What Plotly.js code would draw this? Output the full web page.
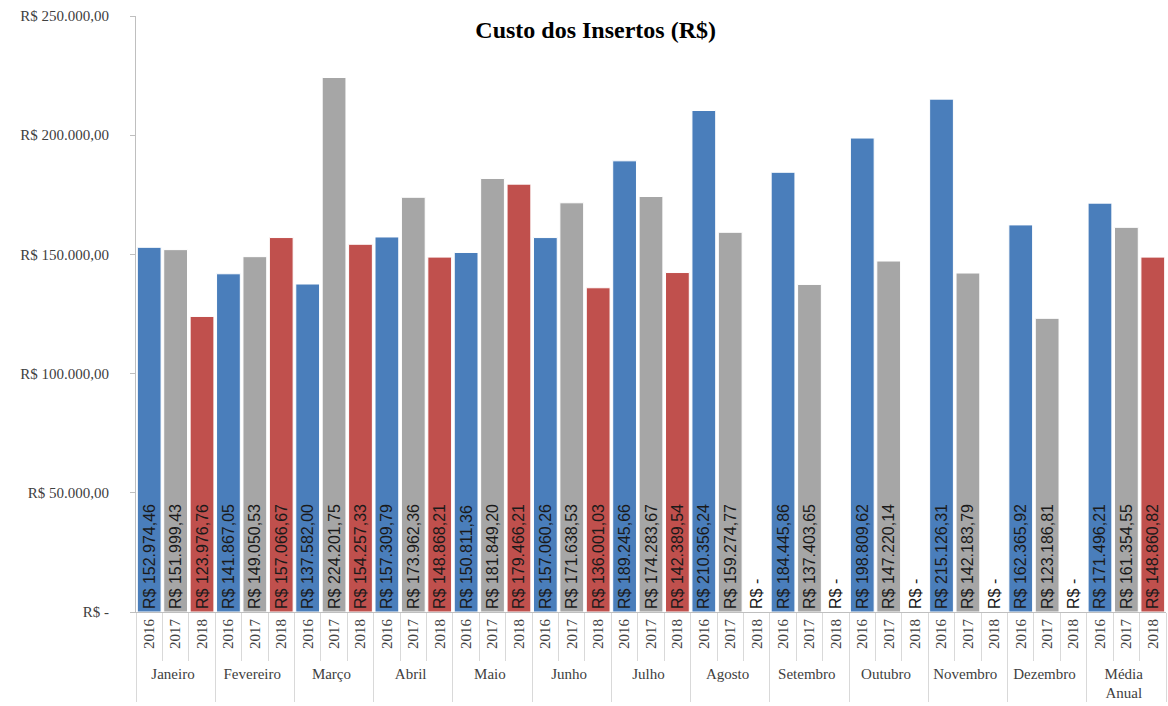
<!DOCTYPE html>
<html><head><meta charset="utf-8">
<script src="https://cdn.plot.ly/plotly-3.0.1.min.js"></script>
<style>html,body{margin:0;padding:0;background:#fff}#chart{width:1168px;height:706px}</style>
</head><body><div id="chart"></div>
<script>
const months = ["Janeiro","Fevereiro","Março","Abril","Maio","Junho","Julho","Agosto","Setembro","Outubro","Novembro","Dezembro","Média<br>Anual"];
const years = ["2016","2017","2018"];
const v2016 = [152974.46,141867.05,137582.00,157309.79,150811.36,157060.26,189245.66,210356.24,184445.86,198809.62,215126.31,162365.92,171496.21];
const v2017 = [151999.43,149050.53,224201.75,173962.36,181849.20,171638.53,174283.67,159274.77,137403.65,147220.14,142183.79,123186.81,161354.55];
const v2018 = [123976.76,157066.67,154257.33,148868.21,179466.21,136001.03,142389.54,0,0,0,0,0,148860.82];
const yTickVals = [0,50000,100000,150000,200000,250000];
const colors = ["#4a7ebb","#a6a6a6","#c0504d"];

function brl(v){
  if(v===0) return "R$ -";
  const parts = v.toFixed(2).split(".");
  const intp = parts[0].replace(/\B(?=(\d{3})+(?!\d))/g,".");
  return "R$ " + intp + "," + parts[1];
}
const series=[v2016,v2017,v2018];
const traces = series.map((vals,i)=>({
  type:"bar",
  x:[months, months.map(()=>years[i])],
  y:vals,
  name:years[i],
  marker:{color:colors[i], line:{color:"#ffffff", width:1}},
  text:vals.map(brl),
  textposition:vals.map(v=>v===0?"outside":"inside"),
  insidetextanchor:"start",
  textangle:-90,
  constraintext:"none",
  textfont:{family:"Liberation Sans, Arial, sans-serif", size:16, color:"#1a1a1a"},
  hoverinfo:"skip",
  cliponaxis:false
}));
const layout = {
  width:1168, height:706,
  margin:{l:136, r:2, t:16, b:94},
  paper_bgcolor:"#ffffff", plot_bgcolor:"#ffffff",
  barmode:"overlay",
  bargap:0.1,
  showlegend:false,
  title:{text:"<b>Custo dos Insertos (R$)</b>", x:0.51, xanchor:"center", y:0.958, yanchor:"middle",
         font:{family:"Liberation Serif, Times New Roman, serif", size:24, color:"#000000"}},
  yaxis:{range:[0,250000], tickvals:yTickVals, ticktext:yTickVals.map(v=>v===0?"R$ -":brl(v)),
         showgrid:false, zeroline:false, showline:true, linecolor:"#bfbfbf", linewidth:1,
         ticks:"outside", ticklen:5, tickcolor:"#bfbfbf", ticklabelstandoff:18,
         tickfont:{family:"Liberation Serif, Times New Roman, serif", size:15, color:"#404040"}},
  xaxis:{type:"multicategory", showgrid:false, zeroline:false, showline:true, linecolor:"#bfbfbf", linewidth:1,
         ticks:"outside", tickson:"boundaries", ticklen:48, tickcolor:"#d9d9d9",
         tickangle:-90,
         showdividers:true, dividercolor:"#d9d9d9", dividerwidth:1,
         tickfont:{family:"Liberation Serif, Times New Roman, serif", size:15, color:"#404040"}}
};
Plotly.newPlot("chart", traces, layout, {displayModeBar:false, staticPlot:true});
</script></body></html>
